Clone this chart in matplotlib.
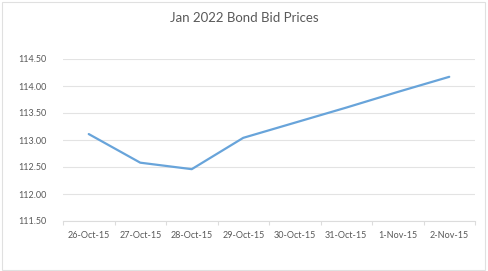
import matplotlib.pyplot as plt
from matplotlib.patches import Rectangle

dates = ['26-Oct-15', '27-Oct-15', '28-Oct-15', '29-Oct-15',
         '30-Oct-15', '31-Oct-15', '1-Nov-15', '2-Nov-15']
prices = [113.11, 112.58, 112.46, 113.04, 113.32, 113.60, 113.89, 114.17]
y_ticks = [111.5, 112.0, 112.5, 113.0, 113.5, 114.0, 114.5]

plt.rcParams['font.family'] = ['Lato', 'DejaVu Sans']
grey = '#595959'

fig = plt.figure(figsize=(4.88, 2.71), dpi=100)
fig.patches.append(Rectangle((0.004, 0.004), 0.99, 0.99, transform=fig.transFigure,
                             fill=False, edgecolor='#e0e0e0', linewidth=0.8))
ax = fig.add_axes([63 / 488, 1 - 221 / 271, 412 / 488, (221 - 59) / 271])

x = list(range(len(dates)))
ax.plot(x, prices, color='#68A4DA', linewidth=1.6, solid_capstyle='round')

ax.set_xlim(-0.5, len(dates) - 0.5)
ax.set_ylim(111.5, 114.5)
ax.set_yticks(y_ticks)
ax.set_yticklabels([f'{v:.2f}' for v in y_ticks])
ax.set_xticks(x)
ax.set_xticklabels(dates)
ax.set_xticks([i - 0.5 for i in range(len(dates) + 1)], minor=True)

ax.grid(axis='y', color='#e3e3e3', linewidth=0.8)
ax.set_axisbelow(True)
for s in ['top', 'right', 'left']:
    ax.spines[s].set_visible(False)
ax.spines['bottom'].set_color('#dcdcdc')
ax.spines['bottom'].set_linewidth(0.8)

ax.tick_params(axis='y', length=0, labelsize=6.5, labelcolor=grey, pad=12)
ax.tick_params(axis='x', which='major', length=0, labelsize=6.5, labelcolor=grey, pad=7)
ax.tick_params(axis='x', which='minor', length=3, color='#dcdcdc', width=0.8)

fig.text(244 / 488, 1 - 18 / 271, 'Jan 2022 Bond Bid Prices', ha='center', va='center',
         fontsize=9.5, color=grey)

fig.savefig('out.png', dpi=100)
